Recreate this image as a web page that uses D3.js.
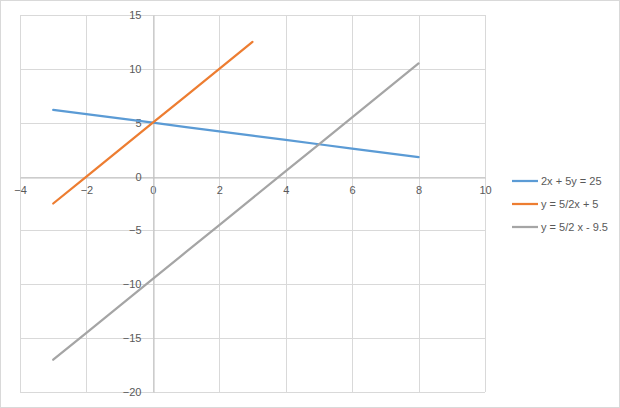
<!DOCTYPE html>
<html><head><meta charset="utf-8">
<script src="https://cdn.jsdelivr.net/npm/d3@7"></script>
<style>body{margin:0;background:#fff}svg{display:block}text{font-family:"Liberation Sans",Arial,sans-serif;fill:#595959}</style>
</head><body><svg id="c" width="620" height="408"></svg>
<script>
const xTicks = [-4,-2,0,2,4,6,8,10];
const yTicks = [-20,-15,-10,-5,0,5,10,15];
const seriesNames = ["2x + 5y = 25","y = 5/2x + 5","y = 5/2 x - 9.5"];
const blueX = [-3,-2,-1,0,1,2,3,4,5,6,7,8];
const blueY = [6.2,5.8,5.4,5,4.6,4.2,3.8,3.4,3,2.6,2.2,1.8];
const orangeX = [-3,-2,-1,0,1,2,3];
const orangeY = [-2.5,0,2.5,5,7.5,10,12.5];
const grayX = [-3,-2,-1,0,1,2,3,4,5,6,7,8];
const grayY = [-17,-14.5,-12,-9.5,-7,-4.5,-2,0.5,3,5.5,8,10.5];
const colors = ["#5B9BD5","#ED7D31","#A5A5A5"];

const svg = d3.select("#c");
svg.append("rect").attr("x",0.5).attr("y",0.5).attr("width",619).attr("height",407).attr("fill","#fff").attr("stroke","#d9d9d9");
const x = d3.scaleLinear().domain([-4,10]).range([20,485]);
const y = d3.scaleLinear().domain([-20,15]).range([392,15]);

const g = svg.append("g");
xTicks.forEach(t=>g.append("line").attr("x1",Math.round(x(t))+0.5).attr("x2",Math.round(x(t))+0.5).attr("y1",y(15)).attr("y2",y(-20)).attr("stroke","#d9d9d9"));
yTicks.forEach(t=>g.append("line").attr("y1",Math.round(y(t))+0.5).attr("y2",Math.round(y(t))+0.5).attr("x1",x(-4)).attr("x2",x(10)).attr("stroke","#d9d9d9"));

// axes at zero
const xAxis = d3.axisBottom(x).tickValues(xTicks).tickSize(0).tickPadding(9);
const xa = svg.append("g").attr("transform",`translate(0,${Math.round(y(0))+0.5})`).call(xAxis);
xa.select(".domain").attr("stroke","#bfbfbf");
xa.selectAll("text").attr("font-size",11).style("fill","#595959");
const yAxis = d3.axisLeft(y).tickValues(yTicks).tickSize(0).tickPadding(12);
const ya = svg.append("g").attr("transform",`translate(${Math.round(x(0))+0.5},0)`).call(yAxis);
ya.select(".domain").attr("stroke","#bfbfbf");
ya.selectAll("text").attr("font-size",11).style("fill","#595959");

const line = d3.line().x(d=>x(d[0])).y(d=>y(d[1]));
const data = [d3.zip(blueX,blueY), d3.zip(orangeX,orangeY), d3.zip(grayX,grayY)];
data.forEach((d,i)=>svg.append("path").datum(d).attr("d",line).attr("fill","none").attr("stroke",colors[i]).attr("stroke-width",2.25).attr("stroke-linecap","round"));

const leg = svg.append("g");
const legY = [181,204,227];
seriesNames.forEach((n,i)=>{
  leg.append("line").attr("x1",512).attr("x2",538).attr("y1",legY[i]).attr("y2",legY[i]).attr("stroke",colors[i]).attr("stroke-width",2.25);
  leg.append("text").attr("x",541).attr("y",legY[i]).attr("dy","0.35em").attr("font-size",11).text(n);
});
</script></body></html>
